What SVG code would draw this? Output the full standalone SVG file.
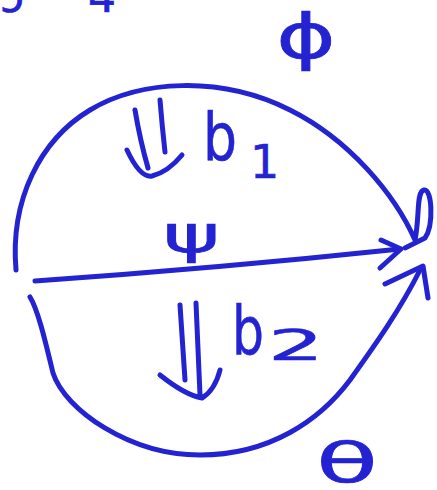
<svg xmlns="http://www.w3.org/2000/svg" width="437" height="490" viewBox="0 0 437 490">
<style>
.s{fill:none;stroke:#2323d2;stroke-width:5;stroke-linecap:round;stroke-linejoin:round}
.t{fill:#2323d2;font-family:"DejaVu Sans",sans-serif;stroke:#2323d2;stroke-width:0.6}
</style>
<rect width="437" height="490" fill="#ffffff"/>
<g id="clipped-label"><text class="t" x="0" y="12" font-size="44">ɔ<tspan x="88">4</tspan></text></g>
<g id="connectors">
<path id="phi-arc" class="s" d="M16,270 C10,200 40,140 90,110 C140,80 220,75 290,110 C350,140 395,195 415,240 C420,215 416,192 424,190 C432,188 434,225 425,238 L405,248"/>
<path id="psi-line" class="s" d="M35,281 Q220,268 400,249"/>
<path id="psi-head" class="s" d="M381,240 L401,249 L380,268"/>
<path id="theta-arc" class="s" d="M30,297 C38,310 45,340 53,373 C65,410 130,455 200,455 C270,455 320,420 350,380 C375,345 400,310 420,270"/>
<path id="theta-head" class="s" d="M385,284 L423,266 L428,298"/>
</g>
<g id="b1">
<path class="s" d="M135,110 Q140,140 148,168 M160,100 Q162,125 165,152 M127,150 Q140,178 152,176 Q168,172 182,155"/>
<text class="t" x="203" y="160" font-size="66" textLength="34" lengthAdjust="spacingAndGlyphs">b</text>
<text class="t" x="250" y="178" font-size="46">1</text>
</g>
<g id="b2">
<path class="s" d="M180,305 L185,380 M196,303 Q198,350 200,395 M160,375 Q185,395 202,398 Q215,390 220,370"/>
<text class="t" x="232" y="355" font-size="68" textLength="32" lengthAdjust="spacingAndGlyphs">b</text>
<text class="t" x="268" y="360" font-size="42" textLength="56" lengthAdjust="spacingAndGlyphs">2</text>
</g>
<g id="phi"><text class="t" x="276" y="58" font-size="62" textLength="60" lengthAdjust="spacingAndGlyphs">ϕ</text></g>
<g id="psi"><text class="t" x="163" y="252" font-size="52" textLength="57" lengthAdjust="spacingAndGlyphs">ψ</text></g>
<g id="theta"><text class="t" x="316" y="482" font-size="56" textLength="62" lengthAdjust="spacingAndGlyphs">θ</text></g>
</svg>
